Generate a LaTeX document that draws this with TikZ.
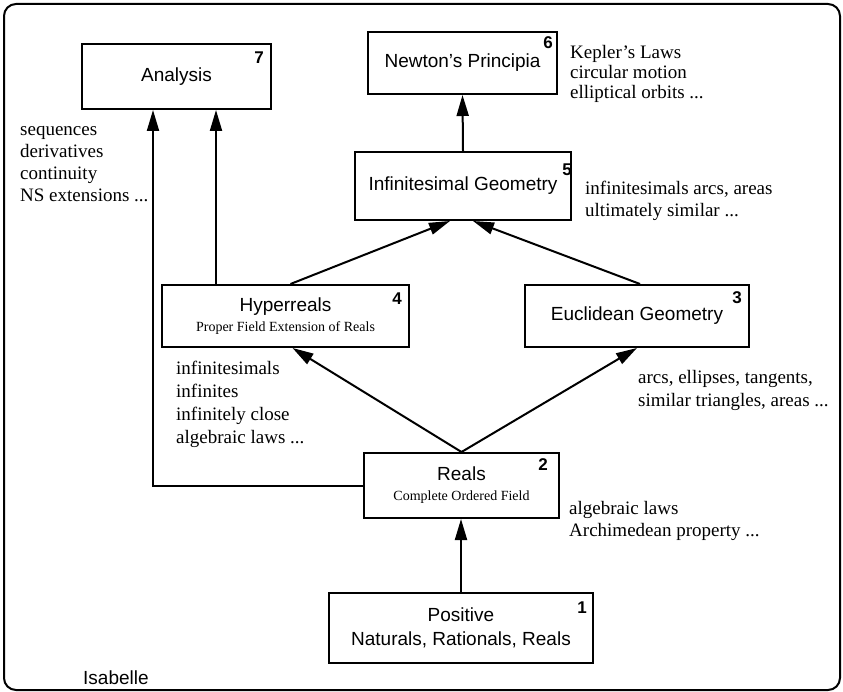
\documentclass[tikz,border=0pt]{standalone}
\usepackage{fontspec}
\setmainfont{Liberation Serif}
\setsansfont{Liberation Sans}
\usetikzlibrary{arrows.meta}
\begin{document}
\begin{tikzpicture}[x=1pt,y=-1pt,
  box/.style={draw, line width=2pt, inner sep=0pt, align=center,
    font=\sffamily\fontsize{19}{23}\selectfont},
  num/.style={inner sep=0pt, font=\sffamily\bfseries\fontsize{17}{17}\selectfont},
  note/.style={anchor=base west, inner sep=0pt, font=\rmfamily\fontsize{19}{22}\selectfont},
  conn/.style={line width=2pt, -{Triangle[length=21pt,width=12pt]}},
  frame/.style={draw, line width=2pt, rounded corners=12pt}
]
\useasboundingbox (0,0) rectangle (843,692);
\draw[frame] (4,4) rectangle (840,690);

% boxes
\node[box, minimum width=189pt, minimum height=65pt] (analysis) at (176.5,76.5) {Analysis};
\node[box, minimum width=189pt, minimum height=62pt] (newton) at (462.5,63) {Newton's Principia};
\node[box, minimum width=216pt, minimum height=68pt] (infgeo) at (463,186) {Infinitesimal Geometry};
\node[box, minimum width=247pt, minimum height=62pt] (hyper) at (285.5,316)
  {Hyperreals\\[-3pt]{\rmfamily\fontsize{14}{16}\selectfont Proper Field Extension of Reals}};
\node[box, minimum width=224pt, minimum height=62pt] (eucl) at (637,316) {Euclidean Geometry};
\node[box, minimum width=195pt, minimum height=65pt] (reals) at (461.5,485.5)
  {Reals\\[-3pt]{\rmfamily\fontsize{14}{16}\selectfont Complete Ordered Field}};
\node[box, minimum width=264pt, minimum height=70pt] (pos) at (461,628)
  {Positive\\[1pt]Naturals, Rationals, Reals};

% numbers
\node[num] (n7) at (259,58) {7};
\node[num] (n6) at (548,43) {6};
\node[num] (n5) at (567,170) {5};
\node[num] (n4) at (397,299) {4};
\node[num] (n3) at (737,298) {3};
\node[num] (n2) at (543,465) {2};
\node[num] (n1) at (582,608) {1};

% notes
\node[note] (la) at (20,136) {\begin{tabular}[t]{@{}l@{}}sequences\\ derivatives\\ continuity\\ NS extensions ...\end{tabular}};
\node[note] (lk) at (570,59) {\fontsize{19}{20}\selectfont\begin{tabular}[t]{@{}l@{}}Kepler's Laws\\ circular motion\\ elliptical orbits ...\end{tabular}};
\node[note] (li) at (585,195) {\begin{tabular}[t]{@{}l@{}}infinitesimals arcs, areas\\ ultimately similar ...\end{tabular}};
\node[note] (lh) at (176,374) {\fontsize{19}{23}\selectfont\begin{tabular}[t]{@{}l@{}}infinitesimals\\ infinites\\ infinitely close\\ algebraic laws ...\end{tabular}};
\node[note] (le) at (638,383) {\fontsize{19}{23}\selectfont\begin{tabular}[t]{@{}l@{}}arcs, ellipses, tangents,\\ similar triangles, areas ...\end{tabular}};
\node[note] (lr) at (569,514) {\begin{tabular}[t]{@{}l@{}}algebraic laws\\ Archimedean property ...\end{tabular}};
\node[anchor=base west, inner sep=0pt, font=\sffamily\fontsize{19}{22}\selectfont] (isa) at (83,684) {Isabelle};

% connectors
\draw[conn] (pos.north) -- (pos.north |- reals.south);
\draw[conn] (reals.north) -- ([xshift=7pt]hyper.south);
\draw[conn] (reals.north) -- (eucl.south);
\draw[conn] ([xshift=5pt]hyper.north) -- ([xshift=-13pt]infgeo.south);
\draw[conn] ([xshift=3pt]eucl.north) -- ([xshift=10pt]infgeo.south);
\draw[conn] (infgeo.north) -- (newton.south);
\draw[conn] ([xshift=-69.5pt]hyper.north) -- ([xshift=39.5pt]analysis.south);
\draw[conn] (reals.west) -| ([xshift=-23.5pt]analysis.south);
\end{tikzpicture}
\end{document}
